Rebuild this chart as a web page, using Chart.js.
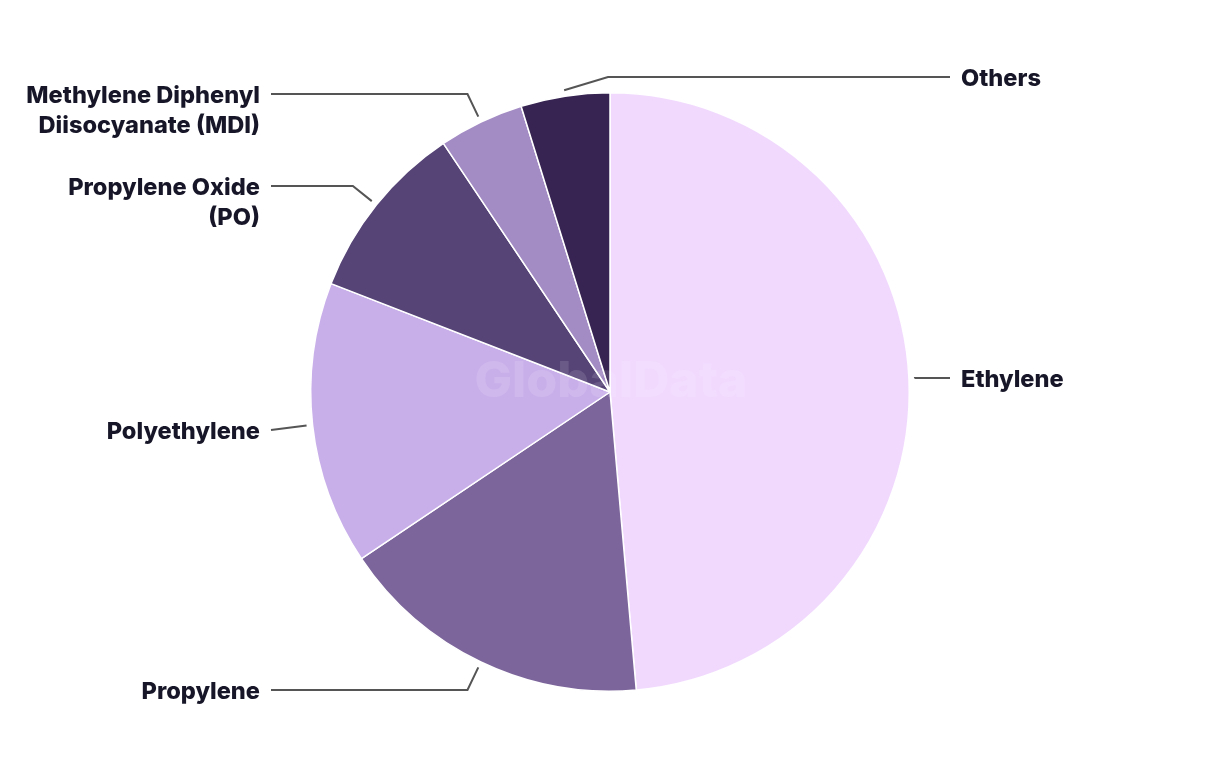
<!DOCTYPE html>
<html>
<head>
<meta charset="utf-8">
<script src="https://cdn.jsdelivr.net/npm/chart.js@4/dist/chart.umd.min.js"></script>
<style>
  html, body { margin: 0; padding: 0; background: #fff; }
  #wrap { width: 1220px; height: 764px; }
</style>
</head>
<body>
<div id="wrap"><canvas id="pie" width="1220" height="764"></canvas></div>
<script>
// data
var categories = ['Ethylene', 'Propylene', 'Polyethylene', 'Propylene Oxide (PO)', 'Methylene Diphenyl Diisocyanate (MDI)', 'Others'];
var shares = [48.6, 17.0, 15.3, 9.7, 4.6, 4.8];
var labelText = [['Ethylene'], ['Propylene'], ['Polyethylene'], ['Propylene Oxide', '(PO)'], ['Methylene Diphenyl', 'Diisocyanate (MDI)'], ['Others']];
var sliceColors = ['#f1d9fe', '#7c659b', '#c9afea', '#564477', '#a38bc4', '#372452'];

// label layout (side + y of first text line)
var labelSide = ['right', 'left', 'left', 'left', 'left', 'right'];
var labelY = [378, 690, 430, 186, 94, 77];

var FONT = '800 23.6px Inter, "Noto Sans", sans-serif';

var calloutPlugin = {
  id: 'callouts',
  afterDatasetsDraw: function(chart){
    var ctx = chart.ctx;
    var arcs = chart.getDatasetMeta(0).data;
    var cx = arcs[0].x, cy = arcs[0].y, r = arcs[0].outerRadius;

    // watermark
    ctx.save();
    ctx.font = '800 50px Inter, "Noto Sans", sans-serif';
    ctx.fillStyle = 'rgba(255,255,255,0.12)';
    ctx.textAlign = 'center';
    ctx.textBaseline = 'middle';
    ctx.fillText('GlobalData', cx + 1, cy - 10);
    ctx.restore();

    ctx.save();
    ctx.font = FONT;
    ctx.textBaseline = 'middle';
    arcs.forEach(function(a, i){
      var mid = (a.startAngle + a.endAngle) / 2;
      var dx = Math.cos(mid), dy = Math.sin(mid);
      var sx = cx + dx * (r + 6), sy = cy + dy * (r + 6);
      var ly = labelY[i];
      var ex = sx + (Math.abs(dy) > 0.05 ? dx * (ly - sy) / dy : 0);
      if (labelSide[i] === 'right' && ex < cx) ex = cx - 2;
      if (labelSide[i] === 'left' && ex > cx) ex = cx;
      var tx = labelSide[i] === 'right' ? 961 : 260;
      var lx = labelSide[i] === 'right' ? tx - 11 : tx + 11;
      if (labelSide[i] === 'left' && ex < lx) ex = lx;
      if (labelSide[i] === 'right' && ex > lx) ex = lx;

      ctx.strokeStyle = '#555555';
      ctx.lineWidth = 2;
      ctx.beginPath();
      ctx.moveTo(sx, sy);
      ctx.lineTo(ex, ly);
      ctx.lineTo(lx, ly);
      ctx.stroke();

      ctx.fillStyle = '#161628';
      ctx.textAlign = labelSide[i] === 'right' ? 'left' : 'right';
      labelText[i].forEach(function(t, k){
        ctx.fillText(t, tx, ly + 2 + k * 30);
      });
    });
    ctx.restore();
  }
};

new Chart(document.getElementById('pie'), {
  type: 'pie',
  data: {
    labels: categories,
    datasets: [{
      data: shares,
      backgroundColor: sliceColors,
      borderColor: '#ffffff',
      borderWidth: 1.5
    }]
  },
  options: {
    responsive: false,
    animation: false,
    layout: { padding: { top: 92, bottom: 72, left: 310, right: 310 } },
    plugins: { legend: { display: false }, tooltip: { enabled: false } }
  },
  plugins: [calloutPlugin]
});
</script>
</body>
</html>
